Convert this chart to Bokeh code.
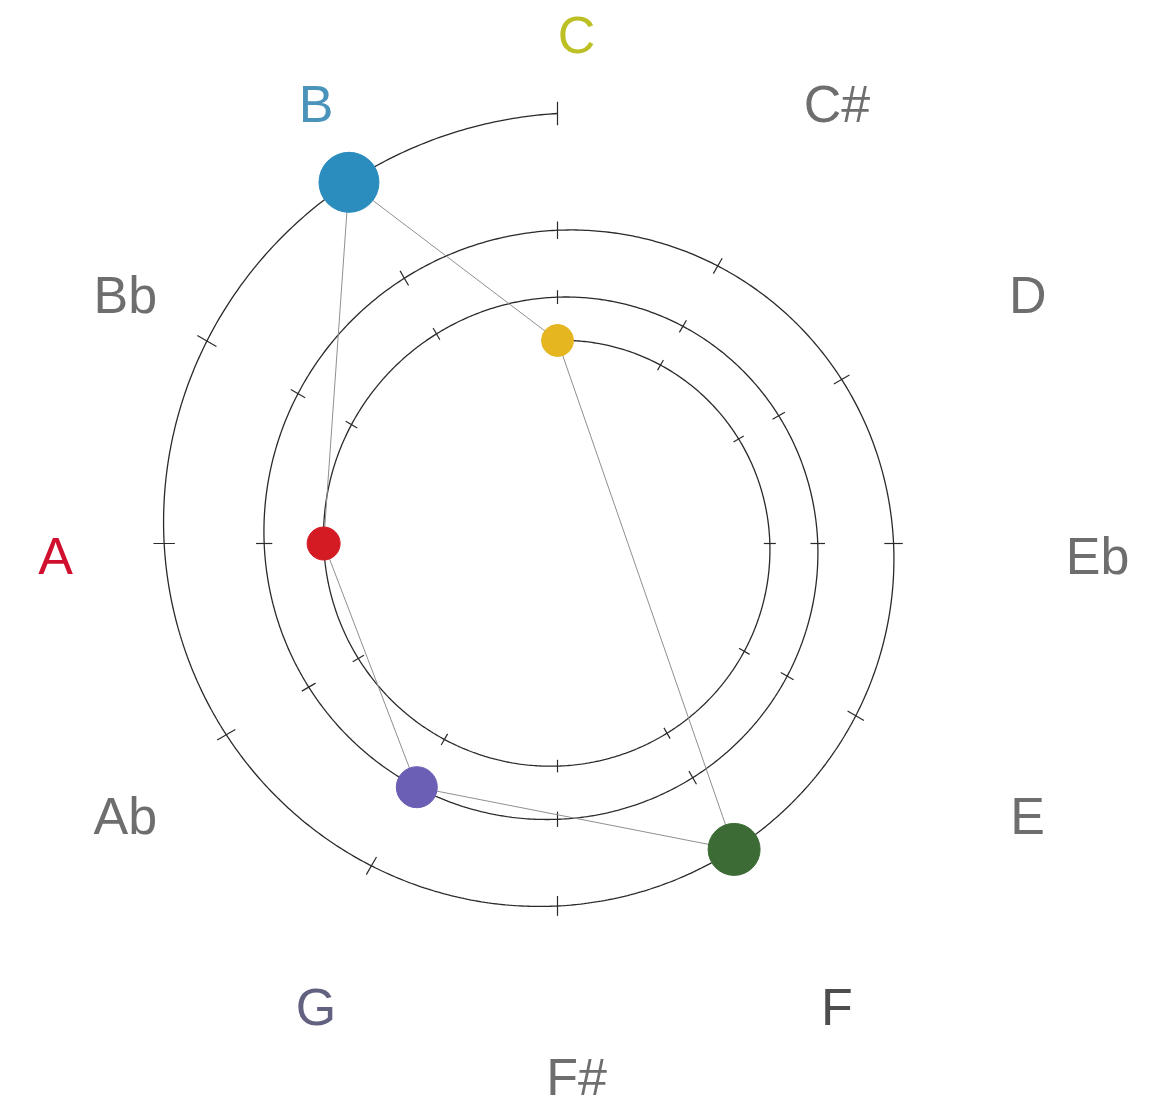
import numpy as np
from bokeh.plotting import figure
from bokeh.models import Range1d, ColumnDataSource
from bokeh.core.properties import value
from bokeh.embed import file_html
from bokeh.resources import INLINE

# ---- data ----
note_names = ["C", "C#", "D", "Eb", "E", "F", "F#", "G", "Ab", "A", "Bb", "B"]
note_label_colors = ["#bcc024", "#6e6e6e", "#6e6e6e", "#6e6e6e", "#6e6e6e", "#4d4d4d",
                     "#6e6e6e", "#626280", "#6e6e6e", "#d0102e", "#6e6e6e", "#4a94bb"]

# melody: notes, position along spiral (semitone steps inward from outer C), dot size, color
melody_notes = ["B", "A", "G", "F", "C"]
melody_steps = [1, 27, 17, 7, 36]
melody_sizes = [60, 33, 41, 52, 32]
melody_colors = ["#2b8cbe", "#d41b24", "#6a5fb5", "#3d6b35", "#e5b61f"]

# spiral geometry
R_OUTER = 430.0
R_INNER = 203.0
TOTAL_STEPS = 36


def spiral_r(k):
    k = np.asarray(k, dtype=float)
    return 1.0 / (1.0 / R_OUTER + (1.0 / R_INNER - 1.0 / R_OUTER) * k / TOTAL_STEPS)


def spiral_theta(k):
    return np.pi / 2 + np.asarray(k, dtype=float) * np.pi / 6


def spiral_xy(k):
    r = spiral_r(k)
    th = spiral_theta(k)
    return r * np.cos(th), r * np.sin(th)


p = figure(width=1162, height=1110, x_range=Range1d(-557, 605), y_range=Range1d(-567, 543),
           output_backend="svg", toolbar_location=None, min_border=0,
           x_axis_type=None, y_axis_type=None)
p.grid.visible = False
p.outline_line_color = None
p.background_fill_color = "white"
p.border_fill_color = "white"

# spiral
ks = np.linspace(0, TOTAL_STEPS, 2000)
sx, sy = spiral_xy(ks)
p.line(sx, sy, line_color="#2a2a2a", line_width=1.3)

# ticks at every semitone
tk = np.arange(0, TOTAL_STEPS + 1)
tr = spiral_r(tk)
tth = spiral_theta(tk)
half = 0.026 * tr + 0.5
p.segment(x0=(tr - half) * np.cos(tth), y0=(tr - half) * np.sin(tth),
          x1=(tr + half) * np.cos(tth), y1=(tr + half) * np.sin(tth),
          line_color="#2a2a2a", line_width=1.2)

# melody connections (closed path)
mx, my = spiral_xy(melody_steps)
p.line(list(mx) + [mx[0]], list(my) + [my[0]], line_color="#909090", line_width=1.0)

# dots
src = ColumnDataSource(dict(x=mx, y=my, size=melody_sizes, color=melody_colors, note=melody_notes))
p.scatter("x", "y", size="size", fill_color="color", line_color="color", source=src)

# labels
LABEL_CX, LABEL_CY, LABEL_R = 19.0, -12.0, 521.0
ang = np.pi / 2 - np.arange(12) * np.pi / 6
lsrc = ColumnDataSource(dict(x=LABEL_CX + LABEL_R * np.cos(ang), y=LABEL_CY + LABEL_R * np.sin(ang),
                             text=note_names, color=note_label_colors))
p.text("x", "y", text="text", text_color="color", source=lsrc,
       text_font=value("Liberation Sans"), text_font_size="52px",
       text_align="center", text_baseline="middle")

open("out.html", "w").write(file_html(p, INLINE))
